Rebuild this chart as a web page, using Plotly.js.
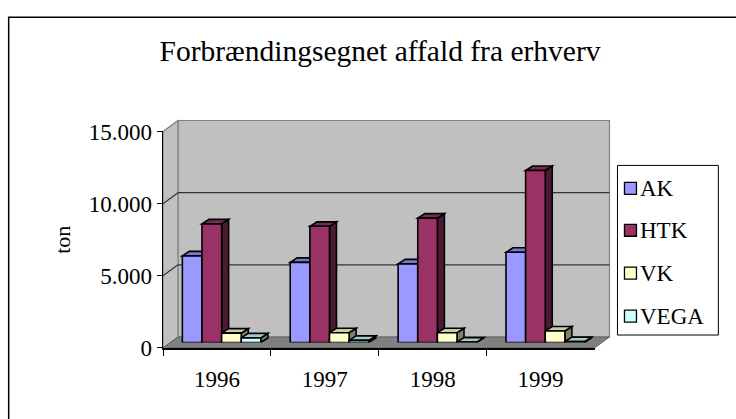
<!DOCTYPE html>
<html><head><meta charset="utf-8">
<script src="https://cdn.plot.ly/plotly-3.0.1.min.js"></script>
<style>html,body{margin:0;padding:0;background:#fff}#c{width:736px;height:419px}</style>
</head><body><div id="c"></div>
<script>
// ---- data ----
const years = ['1996', '1997', '1998', '1999'];
const seriesNames = ['AK', 'HTK', 'VK', 'VEGA'];
const AK   = [6000, 5550, 5450, 6250];
const HTK  = [8220, 8050, 8620, 11920];
const VK   = [650, 680, 680, 800];
const VEGA = [320, 150, 30, 60];
const yTicks = [0, 5000, 10000, 15000];
const yMax = 15000;
const titleText = 'Forbrændingsegnet affald fra erhverv';
const yTitle = 'ton';

// ---- styling ----
const colors = ['#9999FF', '#993366', '#FFFFCC', '#CCFFFF'];
const FONT = '"Liberation Serif", "Times New Roman", serif';
const W = 736, H = 419;
// front plane (axes) in px
const FL = 163, FR = 595, FT = 131, FB = 348;
const DEPTH_X = 15, DEPTH_Y = 11;          // wall depth
const SHIFT_X = 7.5, SHIFT_Y = 5.5;        // bar plane shift
const PL = FL, PR = FR + SHIFT_X, PT = FT - SHIFT_Y, PB = FB;
const pw = PR - PL, ph = PB - PT;
const px = x => (x - PL) / pw;
const py = y => (PB - y) / ph;
const yFront = v => FB - v * (FB - FT) / yMax;

function shade(hex, f) {
  const n = parseInt(hex.slice(1), 16);
  const r = Math.round(((n >> 16) & 255) * f), g = Math.round(((n >> 8) & 255) * f), b = Math.round((n & 255) * f);
  return 'rgb(' + r + ',' + g + ',' + b + ')';
}

const data = [AK, HTK, VK, VEGA];
const barW = 0.182;
const offsets = [-0.39, -0.208, -0.026, 0.156];

const traces = [];
// dummy trace for the visible category axis
traces.push({x: years, y: years.map(() => 0), type: 'scatter', mode: 'markers',
  marker: {opacity: 0}, hoverinfo: 'skip', showlegend: false, xaxis: 'x', yaxis: 'y'});
data.forEach((vals, i) => {
  traces.push({
    type: 'bar', name: seriesNames[i], x: years.map((_, k) => k), y: vals,
    width: barW, offset: offsets[i], xaxis: 'x2', yaxis: 'y2',
    marker: {color: colors[i], line: {color: '#000', width: 1.6}},
    showlegend: false
  });
});

const shapes = [];
const wallLine = {color: '#808080', width: 1.2};
// back wall
shapes.push({type: 'path', xref: 'paper', yref: 'paper', layer: 'below',
  path: `M${px(FL+DEPTH_X)},${py(FT-DEPTH_Y)} L${px(FR+DEPTH_X)},${py(FT-DEPTH_Y)} L${px(FR+DEPTH_X)},${py(FB-DEPTH_Y)} L${px(FL+DEPTH_X)},${py(FB-DEPTH_Y)} Z`,
  fillcolor: '#C0C0C0', line: wallLine});
// left wall
shapes.push({type: 'path', xref: 'paper', yref: 'paper', layer: 'below',
  path: `M${px(FL)},${py(FT)} L${px(FL+DEPTH_X)},${py(FT-DEPTH_Y)} L${px(FL+DEPTH_X)},${py(FB-DEPTH_Y)} L${px(FL)},${py(FB)} Z`,
  fillcolor: '#C0C0C0', line: wallLine});
// floor
shapes.push({type: 'path', xref: 'paper', yref: 'paper', layer: 'below',
  path: `M${px(FL)},${py(FB)} L${px(FL+DEPTH_X)},${py(FB-DEPTH_Y)} L${px(FR+DEPTH_X)},${py(FB-DEPTH_Y)} L${px(FR)},${py(FB)} Z`,
  fillcolor: '#808080', line: {color: '#606060', width: 1}});
// gridlines
yTicks.forEach(v => {
  if (v === 0 || v === yMax) return;
  const yf = yFront(v);
  shapes.push({type: 'line', xref: 'paper', yref: 'paper', layer: 'below',
    x0: px(FL+DEPTH_X), x1: px(FR+DEPTH_X), y0: py(yf-DEPTH_Y), y1: py(yf-DEPTH_Y),
    line: {color: '#333', width: 1.2}});
  shapes.push({type: 'line', xref: 'paper', yref: 'paper', layer: 'below',
    x0: px(FL), x1: px(FL+DEPTH_X), y0: py(yf), y1: py(yf-DEPTH_Y),
    line: {color: '#333', width: 1.2}});
});
// 3D faces of bars
const unitPx = (FR - FL) / years.length;
const dX = 7 / unitPx;
const dV = 4.5 * yMax / (FB - FT);
years.forEach((_, k) => {
  data.forEach((vals, i) => {
    const v = vals[k];
    const x0 = k + offsets[i], x1 = x0 + barW;
    shapes.push({type: 'path', xref: 'x2', yref: 'y2', layer: 'below',
      path: `M${x1},0 L${x1+dX},${dV} L${x1+dX},${v+dV} L${x1},${v} Z`,
      fillcolor: shade(colors[i], 0.5), line: {color: '#000', width: 1.6}});
    shapes.push({type: 'path', xref: 'x2', yref: 'y2', layer: 'below',
      path: `M${x0},${v} L${x0+dX},${v+dV} L${x1+dX},${v+dV} L${x1},${v} Z`,
      fillcolor: shade(colors[i], 0.8), line: {color: '#000', width: 1.6}});
  });
});
// outer frame (only left and top edges fall inside the picture)
shapes.push({type: 'path', xref: 'paper', yref: 'paper',
  path: `M${px(8.5)},${py(H + 40)} L${px(8.5)},${py(16.5)} L${px(W + 40)},${py(16.5)}`,
  line: {color: '#000', width: 1.5}});
// legend box
const LG = {l: 618, r: 719, t: 165, b: 335};
shapes.push({type: 'rect', xref: 'paper', yref: 'paper',
  x0: px(LG.l), x1: px(LG.r), y0: py(LG.t), y1: py(LG.b),
  line: {color: '#000', width: 1}, fillcolor: '#fff'});
const legY = [188, 230, 273, 316];
const annotations = [];
seriesNames.forEach((n, i) => {
  shapes.push({type: 'rect', xref: 'paper', yref: 'paper',
    x0: px(625), x1: px(637), y0: py(legY[i] - 6), y1: py(legY[i] + 6),
    line: {color: '#000', width: 1.3}, fillcolor: colors[i]});
  annotations.push({xref: 'paper', yref: 'paper', x: px(639), y: py(legY[i]),
    xanchor: 'left', yanchor: 'middle', showarrow: false, text: n,
    font: {family: FONT, size: 23, color: '#000'}});
});
annotations.push({xref: 'paper', yref: 'paper', x: px(63), y: py((FT + FB) / 2),
  xanchor: 'center', yanchor: 'middle', showarrow: false, text: yTitle, textangle: -90,
  font: {family: FONT, size: 22, color: '#000'}});

const layout = {
  width: W, height: H,
  margin: {l: PL, r: W - PR, t: PT, b: H - PB, pad: 0},
  paper_bgcolor: '#fff', plot_bgcolor: 'rgba(0,0,0,0)',
  separators: ',.',
  showlegend: false,
  barmode: 'overlay',
  title: {text: titleText, x: 380 / W, xanchor: 'center', y: 1 - 51 / H, yanchor: 'middle',
    font: {family: FONT, size: 29.5, color: '#000'}},
  xaxis: {type: 'category', domain: [0, (FR - FL) / pw], anchor: 'y',
    categoryorder: 'array', categoryarray: years, range: [-0.5, years.length - 0.5],
    tickson: 'boundaries', ticks: 'outside', ticklen: 6, tickcolor: '#000', tickwidth: 1,
    ticklabelstandoff: 10,
    showline: true, linecolor: '#000', linewidth: 1.5, showgrid: false, zeroline: false,
    tickfont: {family: FONT, size: 23, color: '#000'}, fixedrange: true},
  yaxis: {domain: [0, (FB - FT) / ph], anchor: 'x', range: [0, yMax],
    tickvals: yTicks, tickformat: ',d', ticks: 'outside', ticklen: 5, tickcolor: '#000',
    showline: true, linecolor: '#000', linewidth: 1.5, showgrid: false, zeroline: false,
    tickfont: {family: FONT, size: 23, color: '#000'}, fixedrange: true},
  xaxis2: {domain: [SHIFT_X / pw, 1], anchor: 'y2', range: [-0.5, years.length - 0.5],
    visible: false, fixedrange: true},
  yaxis2: {domain: [SHIFT_Y / ph, 1], anchor: 'x2', range: [0, yMax],
    visible: false, fixedrange: true},
  shapes: shapes,
  annotations: annotations
};
Plotly.newPlot('c', traces, layout, {displayModeBar: false, staticPlot: true});
</script></body></html>
